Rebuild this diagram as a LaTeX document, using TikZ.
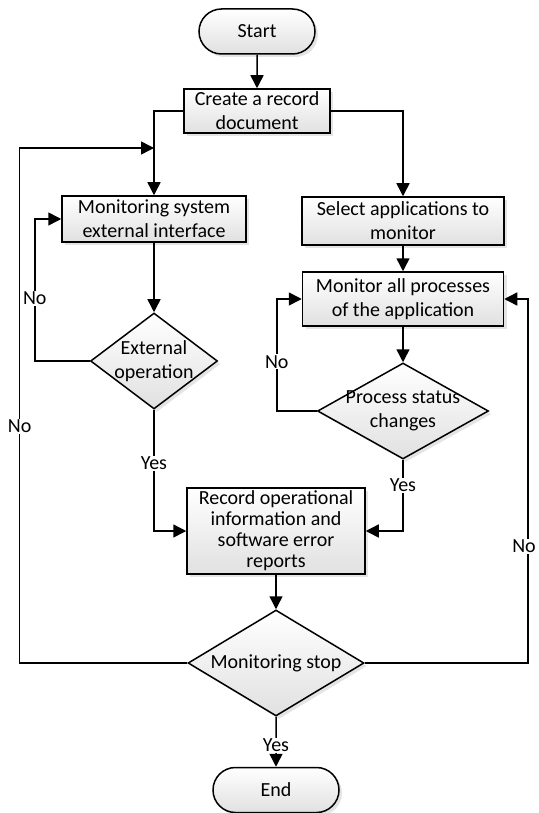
\documentclass[tikz,border=0pt]{standalone}
\usepackage{fontspec}
\setmainfont{Carlito}
\usetikzlibrary{arrows.meta,shapes,shadows,calc}

\begin{document}
\begin{tikzpicture}[x=1pt,y=-1pt]
  \tikzset{base/.style = {draw, line width=1.5pt, top color=white, bottom color=black!12,
      drop shadow={shadow xshift=3pt, shadow yshift=-3pt, fill=black!30, opacity=0.35},
      font=\fontsize{20}{24}\selectfont, align=center, inner sep=1pt}}
  \tikzset{term/.style = {base, rounded rectangle}}
  \tikzset{box/.style = {base, rectangle}}
  \tikzset{decision/.style = {base, diamond, inner sep=0pt}}
  \tikzset{dtext/.style = {align=center, font=\fontsize{20}{24}\selectfont}}
  \tikzset{edge/.style = {line width=1.5pt}}
  \tikzset{arrow/.style = {edge, -{Triangle[length=13pt,width=13pt]}}}
  \tikzset{lbl/.style = {fill=white, inner sep=1pt, font=\fontsize{20}{24}\selectfont}}

  \useasboundingbox (0,0) rectangle (538,813);

  % vertices
  \node[term, minimum width=118pt, minimum height=45pt] (start) at (257,31.5) {Start};
  \node[box, minimum width=146pt, minimum height=44pt] (create) at (257,111) {Create a record\\document};
  \node[box, minimum width=184pt, minimum height=46pt] (mon) at (154,219) {Monitoring system\\external interface};
  \node[box, minimum width=202pt, minimum height=48pt] (sel) at (403,221) {Select applications to\\monitor};
  \node[decision, minimum width=127pt, minimum height=96pt,
        label={[dtext]center:External\\operation}] (ext) at (154,361) {};
  \node[box, minimum width=201pt, minimum height=54pt] (mona) at (403,299) {Monitor all processes\\of the application};
  \node[decision, minimum width=171pt, minimum height=96pt,
        label={[dtext]center:Process status\\changes}] (proc) at (403,411) {};
  \node[box, minimum width=178pt, minimum height=86pt, font=\fontsize{20}{21}\selectfont] (rec) at (276,531)
        {Record operational\\information and\\software error\\reports};
  \node[decision, minimum width=176pt, minimum height=106pt,
        label={[dtext]center:Monitoring stop}] (stop) at (276,663) {};
  \node[term, minimum width=128pt, minimum height=45pt] (finish) at (276,790) {End};

  \coordinate (backl) at (19.6,148);
  \coordinate (backr) at (528,299);

  % edges
  \foreach \a/\b in {start/create, mon/ext, sel/mona, mona/proc, rec/stop}
    {\draw[arrow] (\a) -- (\b);}
  \draw[arrow] (create.west) -| (mon.north);
  \draw[arrow] (create.east) -| (sel.north);
  \draw[arrow] (ext.west) -- ++(-55,0) |- node[lbl, pos=0.22] {No} (mon.west);
  \draw[arrow] (ext.south) |- node[lbl, pos=0.22] {Yes} (rec.west);
  \draw[arrow] (proc.west) -- ++(-40,0) |- node[lbl, pos=0.22] {No} (mona.west);
  \draw[arrow] (proc.south) |- node[lbl, pos=0.18] {Yes} (rec.east);
  \draw[arrow] (stop.south) -- node[lbl, pos=0.57] {Yes} (finish);
  \draw[arrow] (stop.west) -| node[lbl, pos=0.73] {No} (backl) -- (backl -| mon.north);
  \draw[arrow] (stop.east) -| node[lbl, pos=0.66, xshift=-4pt] {No} (backr) -- (mona.east);

\end{tikzpicture}
\end{document}
